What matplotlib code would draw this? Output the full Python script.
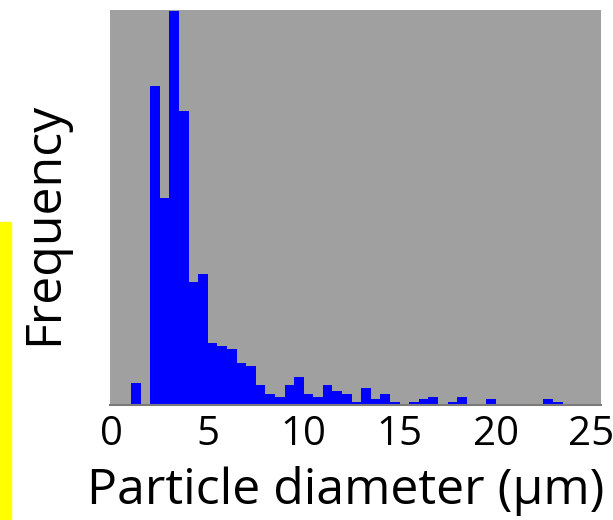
import numpy as np
import matplotlib.pyplot as plt
from matplotlib.patches import Rectangle

# Particle size distribution, 0.5 um bins starting at 1.0 um
bin_start = 1.0
bin_width = 0.5
counts = [8, 0, 114, 74, 141, 105, 44, 47, 22, 21,
          20, 15, 14, 7, 4, 3, 7, 10, 4, 3,
          7, 5, 4, 1, 6, 2, 4, 1, 0, 1,
          2, 3, 0, 1, 3, 0, 0, 2, 0, 0,
          0, 0, 0, 2, 1]
xticks = [0, 5, 10, 15, 20, 25]

edges = bin_start + bin_width * np.arange(len(counts) + 1)

plt.rcParams['font.family'] = ['Open Sans', 'DejaVu Sans']

fig = plt.figure(figsize=(6.13, 5.2), dpi=100)
ax = fig.add_axes([110 / 613, 115 / 520, 491 / 613, 395 / 520])
ax.set_facecolor('#a0a0a0')

ax.stairs(counts, edges, fill=True, color='#0000ff', linewidth=0)

ax.set_xlim(-0.1, 25.5)
ax.set_ylim(0, 141.3)
ax.set_xticks(xticks)
ax.set_yticks([])
ax.tick_params(axis='x', length=0, pad=7, labelsize=29)

for side in ['left', 'top', 'right']:
    ax.spines[side].set_visible(False)
ax.spines['bottom'].set_color('#7a7a7a')
ax.spines['bottom'].set_linewidth(1.5)

ax.set_xlabel('Particle diameter (\u03bcm)', fontsize=36, va='center')
ax.xaxis.set_label_coords(0.481, -0.218)
ax.set_ylabel('Frequency', fontsize=36, va='center')
ax.yaxis.set_label_coords(-0.133, 0.46)

# yellow strip from the neighbouring panel
fig.patches.append(Rectangle((0, 0), 11 / 613, 298 / 520,
                             transform=fig.transFigure, color='#ffff00'))

fig.savefig('out.png', dpi=100)
